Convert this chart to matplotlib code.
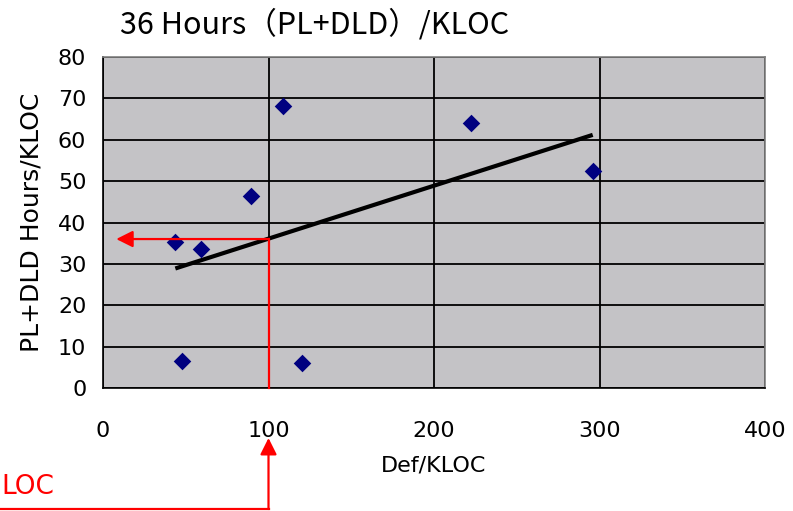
import numpy as np
import matplotlib
matplotlib.use("Agg")
import matplotlib.pyplot as plt
from matplotlib.lines import Line2D
from matplotlib.transforms import blended_transform_factory

# Defects per KLOC vs. planning + detailed design hours per KLOC
def_per_kloc = [108.9, 89.2, 43.7, 59.2, 47.7, 120.2, 222.2, 295.9]
hours_per_kloc = [68.2, 46.4, 35.4, 33.5, 6.6, 6.1, 64.1, 52.4]

x_ticks = [0, 100, 200, 300, 400]
y_ticks = [0, 10, 20, 30, 40, 50, 60, 70, 80]

# reading taken off the trend line at the target defect density
target_def = 100
read_hours = 36

W, H = 793, 511
fig = plt.figure(figsize=(W / 100, H / 100), dpi=100)
ax = fig.add_axes([103 / W, 1 - 388 / H, 662 / W, 331 / H])
ax.set_facecolor("#c4c3c6")

ax.set_xlim(x_ticks[0], x_ticks[-1])
ax.set_ylim(y_ticks[0], y_ticks[-1])
ax.set_xticks(x_ticks)
ax.set_yticks(y_ticks)
ax.grid(True, color="black", linewidth=1.3)
ax.set_axisbelow(True)
ax.tick_params(length=0, labelsize=16, pad=12)
ax.tick_params(axis="x", pad=24)
for s in ax.spines.values():
    s.set_color("#808080")
    s.set_linewidth(1.2)
ax.spines["left"].set_color("black")
ax.spines["bottom"].set_color("black")

ax.scatter(def_per_kloc, hours_per_kloc, marker="D", s=80, color="#000080",
           zorder=4, linewidths=0)

# linear trend line across the data range
slope, icept = np.polyfit(def_per_kloc, hours_per_kloc, 1)
xs = np.array([min(def_per_kloc), max(def_per_kloc)])
ax.plot(xs, slope * xs + icept, color="black", linewidth=3, zorder=3,
        solid_capstyle="butt")

# red guide: from x=100 up to the line, then across to the y axis
red = "#ff0000"
arrow = dict(arrowstyle="-|>,head_length=1.0,head_width=0.5",
             color=red, lw=1.6, shrinkA=0, shrinkB=0)
ax.plot([target_def, target_def], [0, read_hours], color=red, linewidth=1.6,
        zorder=5, clip_on=False)
ax.annotate("", xy=(8, read_hours), xytext=(target_def, read_hours),
            arrowprops=arrow, zorder=5)

# arrow pointing at the 100 tick from below the chart
ax.annotate("", xy=(target_def, 73), xycoords=("data", "figure pixels"),
            xytext=(target_def, 2), textcoords=("data", "figure pixels"),
            arrowprops=arrow)
trans = blended_transform_factory(ax.transData, fig.transFigure)
fig.add_artist(Line2D([-70, target_def], [2 / H, 2 / H], transform=trans,
                      color=red, linewidth=1.6))
fig.text(1 / W, 1 - 487 / H, "LOC", color=red, fontsize=19,
         ha="left", va="center")

fig.text(120 / W, 1 - 25 / H, f"{read_hours} Hours（PL+DLD）/KLOC",
         fontsize=22, family=["Noto Sans CJK JP", "DejaVu Sans"],
         ha="left", va="center")
ax.set_xlabel("Def/KLOC", fontsize=16, labelpad=10)
ax.set_ylabel("PL+DLD Hours/KLOC", fontsize=18, labelpad=10)

fig.savefig("out.png", dpi=100)
